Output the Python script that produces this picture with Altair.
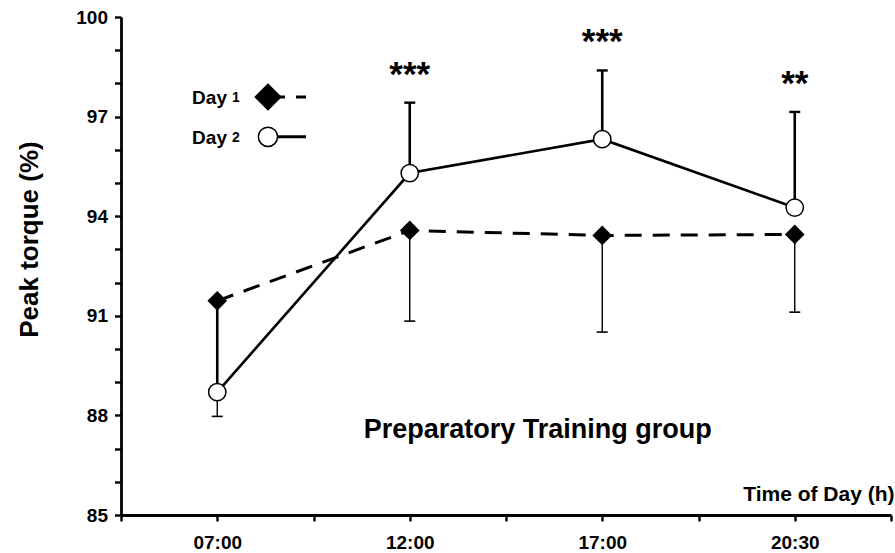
import altair as alt
import pandas as pd

# Measurement times and their slots on a 0-8 time axis (ticks at every slot)
times = ["07:00", "12:00", "17:00", "20:30"]
slots = [1, 3, 5, 7]

# Day 1: mean peak torque (%) and lower end of the SD bar
day1_mean = [91.45, 93.57, 93.42, 93.45]
day1_low = [87.97, 90.84, 90.51, 91.11]

# Day 2: mean peak torque (%) and upper end of the SD bar
day2_mean = [88.70, 95.30, 96.32, 94.26]
day2_high = [91.45, 97.42, 98.39, 97.14]

# Significance marks between days
stars = ["", "***", "***", "**"]

series = ["Day 1", "Day 2"]
y_labels = [85, 88, 91, 94, 97, 100]

FONT = "Liberation Sans"

day1 = pd.DataFrame({"slot": slots, "mean": day1_mean, "end": day1_low})
day2 = pd.DataFrame({"slot": slots, "mean": day2_mean, "end": day2_high, "stars": stars})
star_df = day2[day2["stars"] != ""]

# axis labels: only the measurement slots carry a time label
slot_names = [""] * 9
for s, t in zip(slots, times):
    slot_names[s] = t
x_label_expr = "[" + ",".join(f"'{n}'" for n in slot_names) + "][datum.value]"
y_label_expr = (
    "indexof([" + ",".join(str(v) for v in y_labels) + "], datum.value) >= 0 ? datum.label : ''"
)

x_axis = alt.Axis(
    values=list(range(9)),
    labelExpr=x_label_expr,
    grid=False,
    domainColor="black",
    domainWidth=2.8,
    tickColor="black",
    tickWidth=2.4,
    tickSize=6,
    labelFont=FONT,
    labelFontSize=19,
    labelFontWeight="bold",
    labelColor="black",
    labelPadding=12,
    labelFlush=False,
    titleFont=FONT,
    titleFontSize=21,
    titleFontWeight="bold",
    titleColor="black",
    titleAlign="right",
    titleBaseline="middle",
    titleX=773,
    titleY=-21,
)
y_axis = alt.Axis(
    values=list(range(85, 101)),
    labelExpr=y_label_expr,
    grid=False,
    domainColor="black",
    domainWidth=2.8,
    tickColor="black",
    tickWidth=2.4,
    tickSize=6.5,
    labelFont=FONT,
    labelFontSize=19,
    labelFontWeight="bold",
    labelColor="black",
    labelPadding=7,
    labelFlush=False,
    titleFont=FONT,
    titleFontSize=26,
    titleFontWeight="bold",
    titleColor="black",
    titleAngle=270,
    titleAlign="center",
    titleBaseline="middle",
    titleX=-92,
    titleY=222,
)

x_scale = alt.Scale(domain=[0, 8], nice=False, zero=False)
y_scale = alt.Scale(domain=[85, 100], nice=False, zero=False)


def X(field="slot"):
    return alt.X(f"{field}:Q", scale=x_scale, axis=x_axis, title="Time of Day (h)")


def Y(field):
    return alt.Y(f"{field}:Q", scale=y_scale, axis=y_axis, title="Peak torque (%)")


# SD bars: Day 1 downwards (thin), Day 2 upwards (thick)
err1 = alt.Chart(day1).mark_rule(color="black", strokeWidth=1.4).encode(
    x=X(), y=Y("mean"), y2="end:Q"
)
cap1 = alt.Chart(day1).mark_tick(
    orient="horizontal", color="black", thickness=1.6, size=11, opacity=1
).encode(x=X(), y=Y("end"))
err2 = alt.Chart(day2).mark_rule(color="black", strokeWidth=2.6).encode(
    x=X(), y=Y("mean"), y2="end:Q"
)
cap2 = alt.Chart(day2).mark_tick(
    orient="horizontal", color="black", thickness=2.4, size=11, opacity=1
).encode(x=X(), y=Y("end"))

line1 = alt.Chart(day1).mark_line(
    color="black", strokeWidth=3, strokeDash=[17, 11]
).encode(x=X(), y=Y("mean"))
line2 = alt.Chart(day2).mark_line(color="black", strokeWidth=2.6).encode(
    x=X(), y=Y("mean")
)

pts1 = alt.Chart(day1).mark_point(
    shape="diamond", filled=True, color="black", size=390, opacity=1
).encode(x=X(), y=Y("mean"))
pts2 = alt.Chart(day2).mark_point(
    shape="circle", filled=True, fill="white", stroke="black", strokeWidth=1.5,
    size=300, opacity=1
).encode(x=X(), y=Y("mean"))

star_text = alt.Chart(star_df).mark_text(
    font=FONT, fontSize=35, fontWeight="bold", color="black",
    baseline="alphabetic", align="center", dy=-17
).encode(x=X(), y=Y("end"), text="stars:N")

# Group label inside the plot
group_label = alt.Chart(pd.DataFrame({"slot": [4.33], "y": [87.32],
                                      "t": ["Preparatory Training group"]})).mark_text(
    font=FONT, fontSize=27, fontWeight="bold", color="black",
    baseline="alphabetic", align="center"
).encode(x=X(), y=Y("y"), text="t:N")

# Legend: word, day number, symbol and line sample for each day
legend_slot = 1.527
legend_end = 1.922
legend = pd.DataFrame({
    "slot": [legend_slot, legend_slot],
    "end_slot": [legend_end, legend_end],
    "y": [97.59, 96.39],
    "word": [s.split(" ")[0] for s in series],
    "num": [s.split(" ")[1] for s in series],
})
leg1 = legend.iloc[[0]]
leg2 = legend.iloc[[1]]

leg_word = alt.Chart(legend).mark_text(
    font=FONT, fontSize=19, fontWeight="bold", color="black",
    align="right", baseline="alphabetic", dx=-41, dy=6.8
).encode(x=X(), y=Y("y"), text="word:N")
leg_num = alt.Chart(legend).mark_text(
    font=FONT, fontSize=14, fontWeight="bold", color="black",
    align="left", baseline="alphabetic", dx=-36, dy=5.2
).encode(x=X(), y=Y("y"), text="num:N")
leg_line1 = alt.Chart(leg1).mark_rule(
    color="black", strokeWidth=3, strokeDash=[17, 11]
).encode(x=X(), x2="end_slot:Q", y=Y("y"))
leg_line2 = alt.Chart(leg2).mark_rule(color="black", strokeWidth=3).encode(
    x=X(), x2="end_slot:Q", y=Y("y")
)
leg_pt1 = alt.Chart(leg1).mark_point(
    shape="diamond", filled=True, color="black", size=760, opacity=1
).encode(x=X(), y=Y("y"))
leg_pt2 = alt.Chart(leg2).mark_point(
    shape="circle", filled=True, fill="white", stroke="black", strokeWidth=1.5,
    size=370, opacity=1
).encode(x=X(), y=Y("y"))

chart = alt.layer(
    err1, err2, cap1, cap2, line1, line2, pts1, pts2, star_text, group_label,
    leg_line1, leg_line2, leg_pt1, leg_pt2, leg_word, leg_num,
).properties(
    width=770,
    height=498,
    autosize=alt.AutoSizeParams(type="none"),
    padding={"left": 121, "top": 17, "right": 4, "bottom": 38},
    background="white",
).configure_view(stroke=None)

chart.save("out.html", embed_options={"renderer": "svg", "actions": False})
